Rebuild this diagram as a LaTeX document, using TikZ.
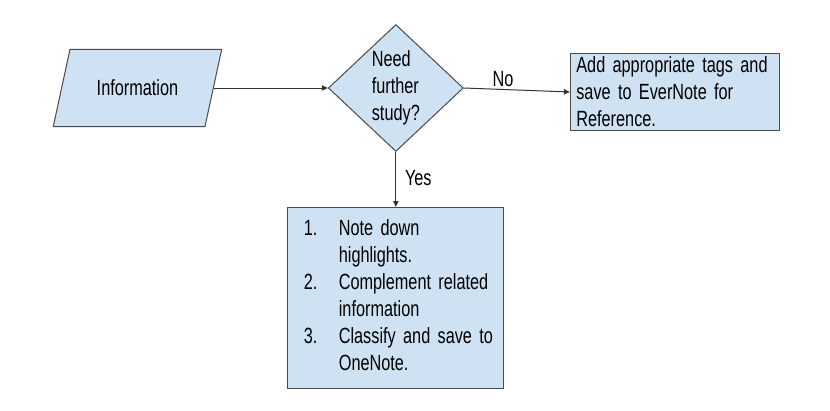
\documentclass[tikz,border=0pt]{standalone}
\usepackage{fontspec}
\setmainfont{Liberation Sans}[FakeStretch=0.74]
\usepackage{xcolor}
\definecolor{flowfill}{HTML}{CFE2F3}
\definecolor{flowline}{HTML}{4A4A4A}
\definecolor{flowarrow}{HTML}{333333}
\newcommand{\flowfont}{\fontsize{16.5pt}{20.25pt}\selectfont\spaceskip=2.8pt plus 1pt minus 0.5pt\relax}
\usepackage{tikz}
\usetikzlibrary{
  shapes.geometric,
  arrows.meta,
  positioning,
}

\begin{document}
\begin{tikzpicture}[
  inputbox/.style={
    trapezium,
    trapezium left angle=66,
    trapezium right angle=114,
    trapezium stretches=true,
    draw=flowline,
    line width=0.75pt,
    fill=flowfill,
    minimum width=126.75pt,
    minimum height=57.75pt,
    font=\flowfont,
  },
  decision/.style={
    diamond,
    draw=flowline,
    line width=0.75pt,
    fill=flowfill,
    minimum width=101.25pt,
    minimum height=95.25pt,
    inner sep=0pt,
    align=left,
    font=\flowfont,
  },
  notebox/.style={
    rectangle,
    draw=flowline,
    line width=0.75pt,
    fill=flowfill,
    inner sep=0pt,
    align=left,
    font=\flowfont,
  },
  arr/.style={
    -{Triangle[length=4.5pt, width=4pt]},
    line width=0.75pt,
    draw=flowarrow,
  },
  lbl/.style={
    font=\flowfont,
    inner sep=1.5pt,
  },
]

\useasboundingbox (0,0) rectangle (622.5pt,-307.5pt);

% =============================================================================
% Top row
% =============================================================================
\node[inputbox] (info) at (103.1pt,-66pt) {Information};
\node[decision, right=85.5pt of info] (study) {Need\\further\\study?};
\node[notebox, right=79.5pt of study, yshift=-3pt,
      minimum width=156.75pt, minimum height=57.75pt,
      text width=148pt, inner xsep=4.5pt] (evernote) {%
  Add appropriate tags and\\save to EverNote for\\Reference.};

\draw[arr] (info.east) -- (study.west);
\draw[arr] (study.east) -- node[lbl, above, pos=0.37] {No} (evernote.west);

% =============================================================================
% Bottom box (further study)
% =============================================================================
\node[notebox, below=41.25pt of study,
      minimum width=162pt, minimum height=135.75pt,
      text width=138pt, inner xsep=12pt] (onenote) {%
  \begin{tabular}{@{}p{26.25pt}@{}l@{}}
    1. & Note down\\
       & highlights.\\
    2. & Complement related\\
       & information\\
    3. & Classify and save to\\
       & OneNote.
  \end{tabular}};

\draw[arr] (study.south) -- node[lbl, right, pos=0.47, xshift=5pt] {Yes} (onenote.north);

\end{tikzpicture}
\end{document}
